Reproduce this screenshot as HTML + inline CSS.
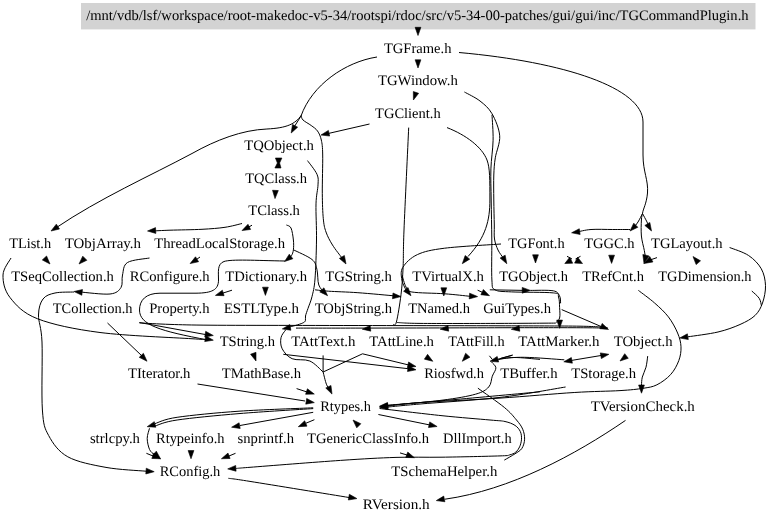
<!DOCTYPE html><html><head><meta charset="utf-8"><style>html,body{margin:0;padding:0;background:#fff;overflow:hidden}svg{display:block}svg{will-change:transform}text{font-family:"Liberation Serif",serif;font-size:14.5px;fill:#000;text-rendering:geometricPrecision}</style></head><body>
<svg width="768" height="521" viewBox="0 0 768 521">
<rect x="81" y="3" width="674.5" height="26.4" fill="#d3d3d3"/>
<text x="86.20" y="20.30" textLength="662.39" lengthAdjust="spacingAndGlyphs">/mnt/vdb/lsf/workspace/root-makedoc-v5-34/rootspi/rdoc/src/v5-34-00-patches/gui/gui/inc/TGCommandPlugin.h</text>
<text x="383.90" y="52.83" textLength="67.53" lengthAdjust="spacingAndGlyphs">TGFrame.h</text>
<text x="377.90" y="85.36" textLength="80.00" lengthAdjust="spacingAndGlyphs">TGWindow.h</text>
<text x="375.10" y="117.89" textLength="65.58" lengthAdjust="spacingAndGlyphs">TGClient.h</text>
<text x="244.20" y="150.42" textLength="69.78" lengthAdjust="spacingAndGlyphs">TQObject.h</text>
<text x="245.20" y="182.95" textLength="61.80" lengthAdjust="spacingAndGlyphs">TQClass.h</text>
<text x="248.20" y="215.48" textLength="51.69" lengthAdjust="spacingAndGlyphs">TClass.h</text>
<text x="9.20" y="248.01" textLength="41.88" lengthAdjust="spacingAndGlyphs">TList.h</text>
<text x="64.70" y="248.01" textLength="76.34" lengthAdjust="spacingAndGlyphs">TObjArray.h</text>
<text x="154.20" y="248.01" textLength="130.84" lengthAdjust="spacingAndGlyphs">ThreadLocalStorage.h</text>
<text x="508.20" y="248.01" textLength="56.39" lengthAdjust="spacingAndGlyphs">TGFont.h</text>
<text x="584.20" y="248.01" textLength="50.41" lengthAdjust="spacingAndGlyphs">TGGC.h</text>
<text x="651.00" y="248.01" textLength="71.57" lengthAdjust="spacingAndGlyphs">TGLayout.h</text>
<text x="11.20" y="280.54" textLength="102.68" lengthAdjust="spacingAndGlyphs">TSeqCollection.h</text>
<text x="129.70" y="280.54" textLength="79.92" lengthAdjust="spacingAndGlyphs">RConfigure.h</text>
<text x="225.20" y="280.54" textLength="81.82" lengthAdjust="spacingAndGlyphs">TDictionary.h</text>
<text x="325.20" y="280.54" textLength="66.68" lengthAdjust="spacingAndGlyphs">TGString.h</text>
<text x="412.20" y="280.54" textLength="71.78" lengthAdjust="spacingAndGlyphs">TVirtualX.h</text>
<text x="499.20" y="280.54" textLength="68.78" lengthAdjust="spacingAndGlyphs">TGObject.h</text>
<text x="582.20" y="280.54" textLength="61.80" lengthAdjust="spacingAndGlyphs">TRefCnt.h</text>
<text x="658.20" y="280.54" textLength="93.31" lengthAdjust="spacingAndGlyphs">TGDimension.h</text>
<text x="52.80" y="313.07" textLength="79.68" lengthAdjust="spacingAndGlyphs">TCollection.h</text>
<text x="149.20" y="313.07" textLength="60.36" lengthAdjust="spacingAndGlyphs">Property.h</text>
<text x="223.70" y="313.07" textLength="75.24" lengthAdjust="spacingAndGlyphs">ESTLType.h</text>
<text x="314.70" y="313.07" textLength="77.33" lengthAdjust="spacingAndGlyphs">TObjString.h</text>
<text x="408.20" y="313.07" textLength="61.78" lengthAdjust="spacingAndGlyphs">TNamed.h</text>
<text x="483.20" y="313.07" textLength="67.79" lengthAdjust="spacingAndGlyphs">GuiTypes.h</text>
<text x="219.70" y="345.60" textLength="55.33" lengthAdjust="spacingAndGlyphs">TString.h</text>
<text x="291.20" y="345.60" textLength="64.30" lengthAdjust="spacingAndGlyphs">TAttText.h</text>
<text x="369.20" y="345.60" textLength="64.78" lengthAdjust="spacingAndGlyphs">TAttLine.h</text>
<text x="448.20" y="345.60" textLength="56.33" lengthAdjust="spacingAndGlyphs">TAttFill.h</text>
<text x="518.20" y="345.60" textLength="81.30" lengthAdjust="spacingAndGlyphs">TAttMarker.h</text>
<text x="613.70" y="345.60" textLength="58.92" lengthAdjust="spacingAndGlyphs">TObject.h</text>
<text x="127.95" y="378.13" textLength="62.53" lengthAdjust="spacingAndGlyphs">TIterator.h</text>
<text x="221.70" y="378.13" textLength="79.38" lengthAdjust="spacingAndGlyphs">TMathBase.h</text>
<text x="424.20" y="378.13" textLength="59.75" lengthAdjust="spacingAndGlyphs">Riosfwd.h</text>
<text x="500.20" y="378.13" textLength="57.37" lengthAdjust="spacingAndGlyphs">TBuffer.h</text>
<text x="571.20" y="378.13" textLength="64.87" lengthAdjust="spacingAndGlyphs">TStorage.h</text>
<text x="320.20" y="410.66" textLength="50.69" lengthAdjust="spacingAndGlyphs">Rtypes.h</text>
<text x="590.70" y="410.66" textLength="104.15" lengthAdjust="spacingAndGlyphs">TVersionCheck.h</text>
<text x="89.90" y="443.19" textLength="50.05" lengthAdjust="spacingAndGlyphs">strlcpy.h</text>
<text x="156.00" y="443.19" textLength="68.60" lengthAdjust="spacingAndGlyphs">Rtypeinfo.h</text>
<text x="237.60" y="443.19" textLength="56.46" lengthAdjust="spacingAndGlyphs">snprintf.h</text>
<text x="307.10" y="443.19" textLength="121.93" lengthAdjust="spacingAndGlyphs">TGenericClassInfo.h</text>
<text x="443.10" y="443.19" textLength="68.60" lengthAdjust="spacingAndGlyphs">DllImport.h</text>
<text x="159.70" y="475.72" textLength="60.58" lengthAdjust="spacingAndGlyphs">RConfig.h</text>
<text x="391.20" y="475.72" textLength="106.14" lengthAdjust="spacingAndGlyphs">TSchemaHelper.h</text>
<text x="362.80" y="509.25" textLength="66.90" lengthAdjust="spacingAndGlyphs">RVersion.h</text>
<g fill="none" stroke="#000" stroke-width="1">
<path d="M377,57 C345,62 312,85 301,116"/>
<path d="M301.00,116.00 L293.50,128.00"/>
<path d="M301.2,115.5 C295,124 287,128 266.9,129 C242,130 216,140 192,153.5 C150,176 100,198 55,228.5"/>
<path d="M301.20,115.50 C301.50,116.25 301.33,118.33 303.00,120.00 C304.67,121.67 308.78,123.67 311.20,125.50 C313.62,127.33 315.82,128.58 317.50,131.00 C319.18,133.42 320.43,136.00 321.30,140.00 C322.17,144.00 322.53,146.12 322.70,155.00 C322.87,163.88 322.20,182.68 322.30,193.30 C322.40,203.92 322.68,212.25 323.30,218.70 C323.92,225.15 324.47,227.62 326.00,232.00 C327.53,236.38 329.83,240.67 332.50,245.00 C335.17,249.33 340.42,255.83 342.00,258.00"/>
<path d="M369.50,124.00 L326.00,134.00"/>
<path d="M307.50,160.60 C309.08,162.88 315.25,170.25 317.00,174.30 C318.75,178.35 318.17,179.97 318.00,184.90 C317.83,189.83 316.25,194.72 316.00,203.90 C315.75,213.08 316.67,227.48 316.50,240.00 C316.33,252.52 315.75,269.57 315.00,279.00 C314.25,288.43 313.17,291.70 312.00,296.60 C310.83,301.50 309.08,305.17 308.00,308.40 C306.92,311.63 305.93,313.95 305.50,316.00 C305.07,318.05 305.87,319.53 305.40,320.70 C304.93,321.87 304.33,322.22 302.70,323.00 C301.07,323.78 297.88,324.73 295.60,325.40 C293.32,326.07 290.10,326.73 289.00,327.00"/>
<path d="M315.00,289.80 C317.27,290.03 321.45,290.72 328.60,291.20 C335.75,291.68 346.67,291.90 357.90,292.70 C369.13,293.50 389.65,295.45 396.00,296.00"/>
<path d="M242.00,223.50 C239.17,224.13 231.67,226.33 225.00,227.30 C218.33,228.27 211.17,228.82 202.00,229.30 C192.83,229.78 178.33,229.92 170.00,230.20 C161.67,230.48 155.00,230.87 152.00,231.00"/>
<path d="M248.00,227.50 L252.00,225.20"/>
<path d="M286.40,225.00 C287.17,225.50 289.83,225.50 291.00,228.00 C292.17,230.50 293.00,236.37 293.40,240.00 C293.80,243.63 293.72,247.20 293.40,249.80 C293.08,252.40 292.40,254.07 291.50,255.60 C290.60,257.13 288.58,258.43 288.00,259.00"/>
<path d="M285,261 C255,260.5 232,259 224,261.5 C217,264 218.5,272 218.5,280 C218.5,290 212,293 196,293.2 L160,293.2 C146,293.2 139.5,300 139.5,310 C139.5,325 160,331 208,340"/>
<path d="M293.40,249.80 C296.50,251.42 308.08,256.25 312.00,259.50 C315.92,262.75 315.77,265.05 316.90,269.30 C318.03,273.55 317.45,281.05 318.80,285.00 C320.15,288.95 323.97,291.67 325.00,293.00"/>
<path d="M196.00,259.80 L200.00,257.00"/>
<path d="M232.00,290.20 L220.00,294.00"/>
<path d="M11.00,258.00 C9.67,260.83 3.17,268.42 3.00,275.00 C2.83,281.58 4.25,290.21 10.00,297.50 C15.75,304.79 22.50,312.92 37.50,318.75 C52.50,324.58 74.25,329.17 100.00,332.50 C125.75,335.83 174.50,337.60 192.00,338.75 C209.50,339.90 202.83,339.29 205.00,339.40"/>
<path d="M149.50,258.00 C145.83,258.75 132.00,259.67 127.50,262.50 C123.00,265.33 123.58,270.83 122.50,275.00 C121.42,279.17 123.08,284.33 121.00,287.50 C118.92,290.67 116.83,293.25 110.00,294.00 C103.17,294.75 85.00,292.33 80.00,292.00"/>
<path d="M74.00,292.00 C70.83,292.17 60.17,291.83 55.00,293.00 C49.83,294.17 45.75,295.33 43.00,299.00 C40.25,302.67 38.67,307.83 38.50,315.00 C38.33,322.17 41.35,326.17 42.00,342.00 C42.65,357.83 41.28,394.40 42.40,410.00 C43.52,425.60 44.47,427.80 48.70,435.60 C52.93,443.40 58.25,451.50 67.80,456.80 C77.35,462.10 92.97,465.00 106.00,467.40 C119.03,469.80 139.33,470.57 146.00,471.20"/>
<path d="M107.50,323.00 L142.00,356.00"/>
<path d="M139.40,322.50 L208.00,335.00"/>
<path d="M139.40,322.90 C144.50,323.15 158.23,324.02 170.00,324.40 C181.77,324.78 190.00,325.03 210.00,325.20 C230.00,325.37 258.33,325.33 290.00,325.40 C321.67,325.47 365.00,325.53 400.00,325.60 C435.00,325.67 470.00,325.70 500.00,325.80 C530.00,325.90 562.08,325.92 580.00,326.20 C597.92,326.48 602.92,327.28 607.50,327.50"/>
<path d="M459,52.5 C565,62 643,88 643,122 L643,155 C643,172 648.5,180 647.5,193 C646.5,204 643,209 642.5,213.5"/>
<path d="M642.50,213.50 C641.75,214.92 639.58,219.50 638.00,222.00 C636.42,224.50 633.83,227.42 633.00,228.50"/>
<path d="M642.50,213.50 C643.25,214.92 645.83,219.58 647.00,222.00 C648.17,224.42 649.08,227.00 649.50,228.00"/>
<path d="M642.50,213.50 C642.32,214.58 641.58,216.25 641.40,220.00 C641.22,223.75 640.92,230.93 641.40,236.00 C641.88,241.07 643.62,246.73 644.30,250.40 C644.98,254.07 645.30,256.73 645.50,258.00"/>
<path d="M657.00,257.60 L650.00,260.00"/>
<path d="M630.00,229.50 C627.10,229.50 619.10,229.50 612.60,229.50 C606.10,229.50 596.93,229.08 591.00,229.50 C585.07,229.92 579.33,231.58 577.00,232.00"/>
<path d="M567.00,256.30 L572.00,259.00"/>
<path d="M580.50,256.30 L575.50,259.00"/>
<path d="M729.60,247.50 C732.77,248.83 743.32,251.95 748.60,255.50 C753.88,259.05 758.48,263.78 761.30,268.80 C764.12,273.82 765.30,279.90 765.50,285.60 C765.70,291.30 764.25,298.02 762.50,303.00 C760.75,307.98 758.75,311.92 755.00,315.50 C751.25,319.08 746.17,321.75 740.00,324.50 C733.83,327.25 726.67,329.95 718.00,332.00 C709.33,334.05 693.00,336.00 688.00,336.80"/>
<path d="M751.80,291.00 C753.03,292.22 757.58,295.80 759.20,298.30 C760.82,300.80 761.12,304.72 761.50,306.00"/>
<path d="M464.40,92.00 C467.00,93.50 475.40,97.38 480.00,101.00 C484.60,104.62 488.72,107.90 492.00,113.70 C495.28,119.50 499.15,128.45 499.70,135.80 C500.25,143.15 496.28,151.27 495.30,157.80 C494.32,164.33 494.05,167.97 493.80,175.00 C493.55,182.03 493.72,191.67 493.80,200.00 C493.88,208.33 494.18,218.50 494.30,225.00 C494.42,231.50 493.88,234.83 494.50,239.00 C495.12,243.17 496.58,246.92 498.00,250.00 C499.42,253.08 502.17,256.25 503.00,257.50"/>
<path d="M492.00,114.80 C492.18,119.03 493.28,131.18 493.10,140.20 C492.92,149.22 491.22,158.93 490.90,168.90 C490.58,178.87 491.05,188.15 491.20,200.00 C491.35,211.85 491.68,226.67 491.80,240.00 C491.92,253.33 491.37,271.70 491.90,280.00 C492.43,288.30 491.70,287.82 495.00,289.80 C498.30,291.78 501.98,291.38 511.70,291.90 C521.42,292.42 545.50,292.05 553.30,292.90 C561.10,293.75 557.45,294.57 558.50,297.00 C559.55,299.43 559.42,304.00 559.60,307.50 C559.78,311.00 560.30,315.40 559.60,318.00 C558.90,320.60 556.10,322.25 555.40,323.10"/>
<path d="M447,127.6 C466,135 482,147 487,160 C490,168 489.9,180 489.9,200 C489.9,220 486,237 468,256.5"/>
<path d="M408.70,127.60 C407.92,144.67 404.93,206.70 404.00,230.00 C403.07,253.30 403.60,256.62 403.10,267.40 C402.60,278.18 402.12,285.60 401.00,294.70 C399.88,303.80 397.73,317.03 396.40,322.00 C395.07,326.97 393.57,324.08 393.00,324.50"/>
<path d="M501.00,244.00 C491.62,244.70 458.63,246.43 444.70,248.20 C430.77,249.97 424.38,251.40 417.40,254.60 C410.42,257.80 405.38,263.17 402.80,267.40 C400.22,271.63 401.37,276.23 401.90,280.00 C402.43,283.77 405.32,288.33 406.00,290.00"/>
<path d="M402.00,275.00 C402.67,277.00 404.35,284.17 406.00,287.00 C407.65,289.83 405.45,290.87 411.90,292.00 C418.35,293.13 435.02,293.08 444.70,293.80 C454.38,294.52 465.78,295.88 470.00,296.30"/>
<path d="M477.60,290.20 L484.00,293.00"/>
<path d="M489.80,289.80 L524.00,290.40"/>
<path d="M530.40,290.40 C534.22,290.47 548.43,289.87 553.30,290.80 C558.17,291.73 558.38,293.92 559.60,296.00 C560.82,298.08 560.43,302.08 560.60,303.30"/>
<path d="M561.70,309.60 L601.00,326.50"/>
<path d="M296.00,328.10 C306.67,328.10 334.33,328.13 360.00,328.10 C385.67,328.07 423.33,327.97 450.00,327.90 C476.67,327.83 496.67,327.72 520.00,327.70 C543.33,327.68 575.42,327.67 590.00,327.80 C604.58,327.93 604.58,328.38 607.50,328.50"/>
<path d="M397.00,322.50 C400.83,322.65 402.83,323.25 420.00,323.40 C437.17,323.55 477.43,323.45 500.00,323.40 C522.57,323.35 546.17,323.15 555.40,323.10"/>
<path d="M285.60,330.00 C284.83,331.28 281.57,334.57 281.00,337.70 C280.43,340.83 280.35,345.30 282.20,348.80 C284.05,352.30 287.50,356.67 292.10,358.70 C296.70,360.73 304.63,358.78 309.80,361.00 C314.97,363.22 320.88,370.17 323.10,372.00"/>
<path d="M323.10,355.40 L323.10,372.00"/>
<path d="M323.1,372 L362.5,353.8 L410,365.3"/>
<path d="M323.10,372.00 C323.65,374.03 325.33,381.37 326.40,384.20 C327.47,387.03 328.98,388.20 329.50,389.00"/>
<path d="M283.30,354.30 L409.00,368.80"/>
<path d="M296.60,388.60 L308.00,392.30"/>
<path d="M197.50,384.00 L305.00,401.00"/>
<path d="M512.70,355.00 L497.00,359.50"/>
<path d="M540.00,359.40 C535.65,359.08 521.07,357.42 513.90,357.50 C506.73,357.58 500.48,359.32 497.00,359.90 C493.52,360.48 493.67,360.82 493.00,361.00"/>
<path d="M489.40,355.80 L492.30,359.40"/>
<path d="M491.50,362.00 C492.23,362.97 495.77,365.43 495.90,367.80 C496.03,370.17 493.50,373.00 492.30,376.20 C491.10,379.40 491.50,384.00 488.70,387.00 C485.90,390.00 483.28,392.00 475.50,394.20 C467.72,396.40 456.58,398.32 442.00,400.20 C427.42,402.08 397.00,404.62 388.00,405.50"/>
<path d="M571.00,360.50 L601.00,355.50"/>
<path d="M500.00,358.60 C504.12,358.38 513.98,357.10 524.70,357.30 C535.42,357.50 557.70,359.38 564.30,359.80"/>
<path d="M500.00,358.60 L512.40,355.30"/>
<path d="M647.70,356.10 C647.42,357.95 646.90,363.70 646.00,367.20 C645.10,370.70 643.05,374.13 642.30,377.10 C641.55,380.07 641.63,383.68 641.50,385.00"/>
<path d="M638.40,290.40 C641.10,292.50 649.60,298.58 654.60,303.00 C659.60,307.42 664.57,311.90 668.40,316.90 C672.23,321.90 675.50,328.02 677.60,333.00 C679.70,337.98 680.80,342.20 681.00,346.80 C681.20,351.40 680.52,355.98 678.80,360.60 C677.08,365.22 674.35,370.47 670.70,374.50 C667.05,378.53 661.52,382.50 656.90,384.80 C652.28,387.10 649.15,387.33 643.00,388.30 C636.85,389.27 631.47,389.90 620.00,390.60 C608.53,391.30 594.20,391.25 574.20,392.50 C554.20,393.75 525.70,396.42 500.00,398.10 C474.30,399.78 438.67,401.28 420.00,402.60 C401.33,403.92 393.33,405.43 388.00,406.00"/>
<path d="M565.60,387.00 C554.67,388.73 524.27,394.57 500.00,397.40 C475.73,400.23 438.67,402.40 420.00,404.00 C401.33,405.60 393.33,406.50 388.00,407.00"/>
<path d="M540.00,391.80 C525.00,393.17 475.33,397.77 450.00,400.00 C424.67,402.23 398.33,404.33 388.00,405.20"/>
<path d="M379.60,408.50 C390.00,409.70 423.60,413.78 442.00,415.70 C460.40,417.62 479.50,419.03 490.00,420.00 C500.50,420.97 500.83,420.60 505.00,421.50 C509.17,422.40 512.45,423.73 515.00,425.40 C517.55,427.07 519.22,429.20 520.30,431.50 C521.38,433.80 521.62,436.63 521.50,439.20 C521.38,441.77 520.57,444.73 519.60,446.90 C518.63,449.07 517.37,450.87 515.70,452.20 C514.03,453.53 512.22,454.28 509.60,454.90 C506.98,455.52 511.27,455.52 500.00,455.90 C488.73,456.28 459.33,456.95 442.00,457.20 C424.67,457.45 412.92,456.87 396.00,457.40 C379.08,457.93 364.83,458.75 340.50,460.40 C316.17,462.05 267.42,465.95 250.00,467.30 C232.58,468.65 238.33,468.30 236.00,468.50"/>
<path d="M477.90,388.20 C482.30,391.40 497.87,402.10 504.30,407.40 C510.73,412.70 513.43,416.37 516.50,420.00 C519.57,423.63 521.35,426.00 522.70,429.20 C524.05,432.40 524.73,436.00 524.60,439.20 C524.47,442.40 523.50,445.97 521.90,448.40 C520.30,450.83 517.93,451.85 515.00,453.80 C512.07,455.75 506.08,459.05 504.30,460.10"/>
<path d="M378.40,414.50 L430.00,425.00"/>
<path d="M400.00,452.90 L408.00,455.30"/>
<path d="M313.20,407.80 C300.83,408.37 261.68,409.62 239.00,411.20 C216.32,412.78 191.10,415.23 177.10,417.30 C163.10,419.37 158.68,422.55 155.00,423.60"/>
<path d="M313.20,408.60 C300.83,409.43 261.68,411.70 239.00,413.60 C216.32,415.50 191.10,417.93 177.10,420.00 C163.10,422.07 158.68,425.00 155.00,426.00"/>
<path d="M313.20,412.30 L240.00,425.50"/>
<path d="M314.40,419.70 L306.00,423.20"/>
<path d="M149.50,428.30 C149.12,429.98 147.20,434.88 147.20,438.40 C147.20,441.92 148.37,446.72 149.50,449.40 C150.63,452.08 153.25,453.65 154.00,454.50"/>
<path d="M146.40,453.30 L153.00,456.00"/>
<path d="M235.50,453.30 L229.00,456.00"/>
<path d="M228.40,478.30 C232.00,478.82 229.90,478.20 250.00,481.40 C270.10,484.60 332.50,494.82 349.00,497.50"/>
<path d="M625.5,420.4 C575,455 510,490 445,499.2"/>
</g><g fill="#000" stroke="#000" stroke-width="0.6">
<path d="M418.00,35.50 L415.10,27.30 L420.90,27.30 Z"/>
<path d="M418.00,68.00 L415.10,59.80 L420.90,59.80 Z"/>
<path d="M413.40,100.00 L413.33,91.52 L418.63,93.33 Z"/>
<path d="M291.20,133.00 L292.51,124.40 L297.63,127.14 Z"/>
<path d="M51.00,231.00 L56.33,224.13 L59.47,229.01 Z"/>
<path d="M346.00,264.00 L339.36,258.38 L344.37,255.46 Z"/>
<path d="M321.00,135.00 L328.38,130.39 L329.63,136.05 Z"/>
<path d="M275.00,198.60 L272.53,190.26 L278.32,190.56 Z"/>
<path d="M282.30,328.90 L289.84,324.56 L290.89,330.27 Z"/>
<path d="M400.90,296.60 L392.47,298.75 L392.99,292.98 Z"/>
<path d="M147.50,231.00 L155.52,227.62 L155.86,233.41 Z"/>
<path d="M242.00,230.60 L247.98,224.29 L250.62,229.45 Z"/>
<path d="M284.60,261.50 L289.28,254.17 L292.85,258.74 Z"/>
<path d="M213.30,340.20 L204.71,341.58 L205.76,335.87 Z"/>
<path d="M327.60,295.70 L319.78,291.89 L323.91,287.82 Z"/>
<path d="M190.10,263.60 L195.53,256.80 L198.59,261.73 Z"/>
<path d="M265.40,295.40 L262.50,287.20 L268.30,287.20 Z"/>
<path d="M215.40,295.40 L222.35,290.17 L224.09,295.70 Z"/>
<path d="M50.00,264.00 L42.31,259.94 L46.57,256.01 Z"/>
<path d="M79.00,264.00 L82.75,256.15 L86.85,260.25 Z"/>
<path d="M74.00,291.50 L82.47,289.52 L81.83,295.29 Z"/>
<path d="M154.20,471.70 L145.80,473.97 L146.24,468.19 Z"/>
<path d="M147.00,361.25 L139.22,357.35 L143.40,353.33 Z"/>
<path d="M213.30,335.50 L204.74,337.06 L205.67,331.33 Z"/>
<path d="M630.00,231.00 L633.75,223.15 L637.85,227.25 Z"/>
<path d="M651.50,231.00 L644.84,225.40 L649.84,222.46 Z"/>
<path d="M644.00,263.50 L649.70,256.43 L652.95,261.95 Z"/>
<path d="M644.00,263.50 L642.83,254.49 L649.06,255.96 Z"/>
<path d="M571.60,232.80 L579.29,228.75 L580.13,234.48 Z"/>
<path d="M611.60,263.40 L608.70,255.20 L614.50,255.20 Z"/>
<path d="M582.50,263.50 L574.59,263.12 L577.62,257.26 Z"/>
<path d="M564.80,263.50 L569.74,257.31 L572.71,263.20 Z"/>
<path d="M535.50,263.00 L532.60,254.80 L538.40,254.80 Z"/>
<path d="M693.00,256.50 L700.54,260.84 L696.13,264.61 Z"/>
<path d="M679.75,338.00 L687.38,333.82 L688.31,339.55 Z"/>
<path d="M506.80,263.70 L500.15,258.09 L505.16,255.16 Z"/>
<path d="M462.30,263.70 L465.18,255.49 L469.70,259.13 Z"/>
<path d="M411.00,295.70 L403.56,291.20 L408.04,287.52 Z"/>
<path d="M477.60,296.60 L469.22,298.92 L469.62,293.14 Z"/>
<path d="M443.80,296.00 L440.90,287.80 L446.70,287.80 Z"/>
<path d="M489.50,295.70 L480.86,294.71 L483.40,289.50 Z"/>
<path d="M530.40,290.40 L522.17,293.20 L522.24,287.40 Z"/>
<path d="M608.50,329.40 L599.83,328.68 L602.21,323.39 Z"/>
<path d="M559.60,328.30 L556.70,320.10 L562.50,320.10 Z"/>
<path d="M511.30,329.30 L519.12,325.48 L519.78,331.24 Z"/>
<path d="M440.20,329.20 L448.02,325.39 L448.68,331.16 Z"/>
<path d="M362.30,329.20 L370.12,325.38 L370.78,331.14 Z"/>
<path d="M416.00,366.50 L407.38,367.64 L408.58,361.96 Z"/>
<path d="M332.00,394.10 L325.77,388.03 L330.97,385.46 Z"/>
<path d="M416.00,369.80 L407.48,371.53 L408.29,365.78 Z"/>
<path d="M256.00,361.00 L250.54,354.23 L256.01,352.30 Z"/>
<path d="M432.80,361.30 L424.37,359.14 L427.60,354.33 Z"/>
<path d="M462.30,361.30 L465.61,353.26 L469.93,357.13 Z"/>
<path d="M314.30,394.10 L305.60,394.29 L307.42,388.78 Z"/>
<path d="M314.30,402.60 L305.74,404.16 L306.67,398.43 Z"/>
<path d="M490.00,361.30 L497.19,356.41 L498.67,362.02 Z"/>
<path d="M379.60,406.20 L387.47,402.49 L388.05,408.26 Z"/>
<path d="M563.80,361.80 L571.34,357.47 L572.39,363.18 Z"/>
<path d="M608.90,354.30 L601.34,358.60 L600.32,352.89 Z"/>
<path d="M620.00,361.00 L624.73,353.70 L628.27,358.29 Z"/>
<path d="M641.50,393.20 L638.60,385.00 L644.40,385.00 Z"/>
<path d="M379.60,406.50 L387.53,402.93 L388.01,408.71 Z"/>
<path d="M379.60,407.50 L387.53,403.93 L388.01,409.71 Z"/>
<path d="M227.70,468.90 L235.68,465.45 L236.08,471.24 Z"/>
<path d="M437.10,426.50 L428.47,427.56 L429.72,421.90 Z"/>
<path d="M414.40,457.70 L405.70,457.49 L407.77,452.07 Z"/>
<path d="M353.00,420.00 L360.85,423.75 L356.75,427.85 Z"/>
<path d="M147.20,426.70 L154.27,421.64 L155.88,427.21 Z"/>
<path d="M231.60,427.20 L239.11,422.81 L240.20,428.51 Z"/>
<path d="M298.30,426.70 L304.70,420.81 L306.98,426.15 Z"/>
<path d="M160.50,458.75 L152.45,455.45 L156.31,451.13 Z"/>
<path d="M160.50,458.75 L151.81,458.44 L153.94,453.04 Z"/>
<path d="M191.00,458.75 L188.10,450.55 L193.90,450.55 Z"/>
<path d="M221.40,458.75 L227.99,453.08 L230.09,458.48 Z"/>
<path d="M356.90,498.60 L348.32,500.00 L349.34,494.29 Z"/>
<path d="M436.30,500.60 L443.74,496.10 L444.92,501.78 Z"/>
<path d="M275.4,158 L281.9,158 L279.6,163 L281,168 L274.9,168 L277.4,163 Z"/>
</g></svg></body></html>
